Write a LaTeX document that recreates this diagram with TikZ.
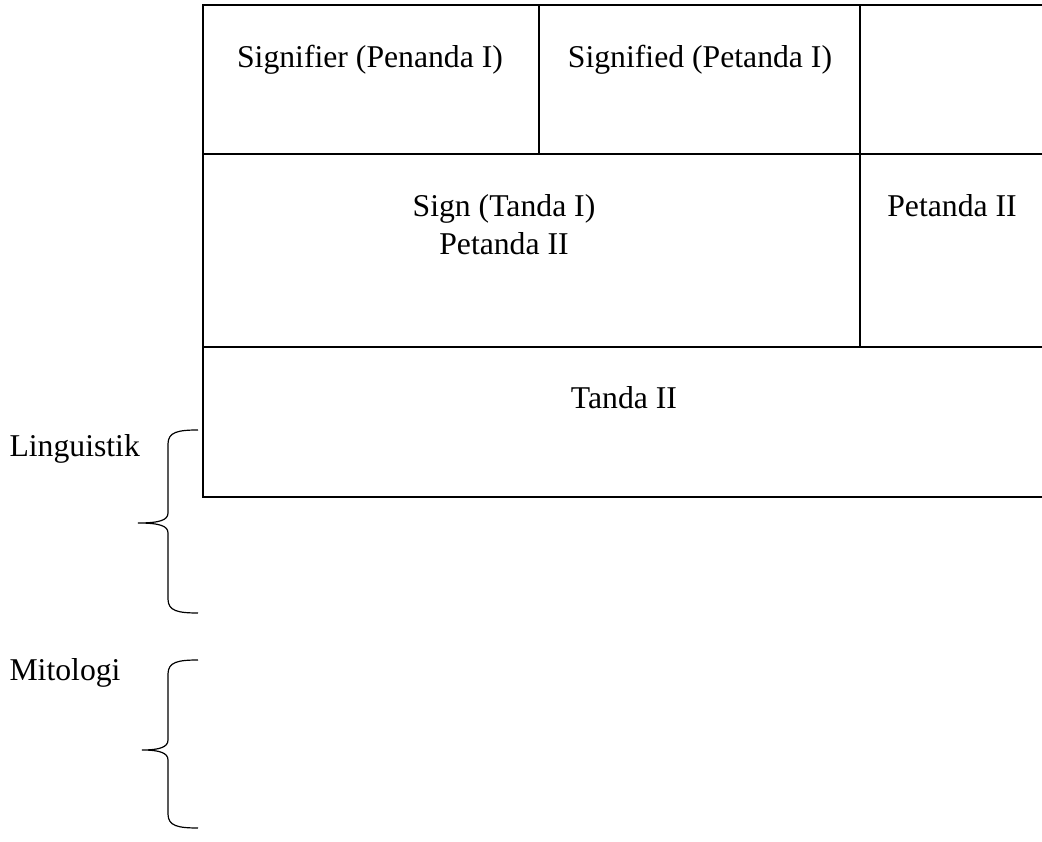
\documentclass[tikz,border=0pt]{standalone}
\usepackage{fontspec}
\setmainfont{Liberation Serif}
\usepackage{tikz}
\pgfdeclarelayer{nodelayer}
\pgfdeclarelayer{edgelayer}
\pgfsetlayers{nodelayer,edgelayer,main}
\tikzset{
    cell/.style = {inner sep=0pt, anchor=base, font=\fontsize{12}{14}\selectfont},
    side/.style = {inner sep=0pt, anchor=base west, font=\fontsize{12}{14}\selectfont},
    tablerule/.style = {line width=0.65pt},
    bracket/.style = {line width=0.45pt}
}

\begin{document}
\begin{tikzpicture}[x=0.3785pt, y=-0.3785pt]
  \useasboundingbox (0, 0) rectangle (1042, 842);
  \begin{pgfonlayer}{nodelayer}
    \node [style=cell] (signifier) at (370, 68) {Signifier (Penanda I)};
    \node [style=cell] (signified) at (700, 68) {Signified (Petanda I)};
    \node [style=cell] (sign) at (504, 217) {Sign (Tanda I)};
    \node [style=cell] (petanda) at (504, 255) {Petanda II};
    \node [style=cell] (petandaII) at (952, 217) {Petanda II};
    \node [style=cell] (tandaII) at (624, 409) {Tanda II};
    \node [style=side] (linguistik) at (9, 457) {Linguistik};
    \node [style=side] (mitologi) at (9, 681) {Mitologi};
  \end{pgfonlayer}
  \begin{pgfonlayer}{edgelayer}
    % table, open on the right
    \draw [style=tablerule] (1042, 5) -- (203, 5) -- (203, 497) -- (1042, 497);
    \draw [style=tablerule] (203, 154) -- (1042, 154);
    \draw [style=tablerule] (203, 347) -- (1042, 347);
    \draw [style=tablerule] (539, 5) -- (539, 154);
    \draw [style=tablerule] (860, 5) -- (860, 347);
    % braces
    \foreach \t/\m/\b/\p in {430/523/613/138, 660/750/828/142}
      \draw [style=bracket] (198, \t) .. controls (178, \t) and (168, \t+2) .. (168, \t+14)
        -- (168, \m-10) .. controls (168, \m-3) and (160, \m) .. (\p, \m)
        .. controls (160, \m) and (168, \m+3) .. (168, \m+10)
        -- (168, \b-14) .. controls (168, \b-2) and (178, \b) .. (198, \b);
  \end{pgfonlayer}
\end{tikzpicture}
\end{document}
